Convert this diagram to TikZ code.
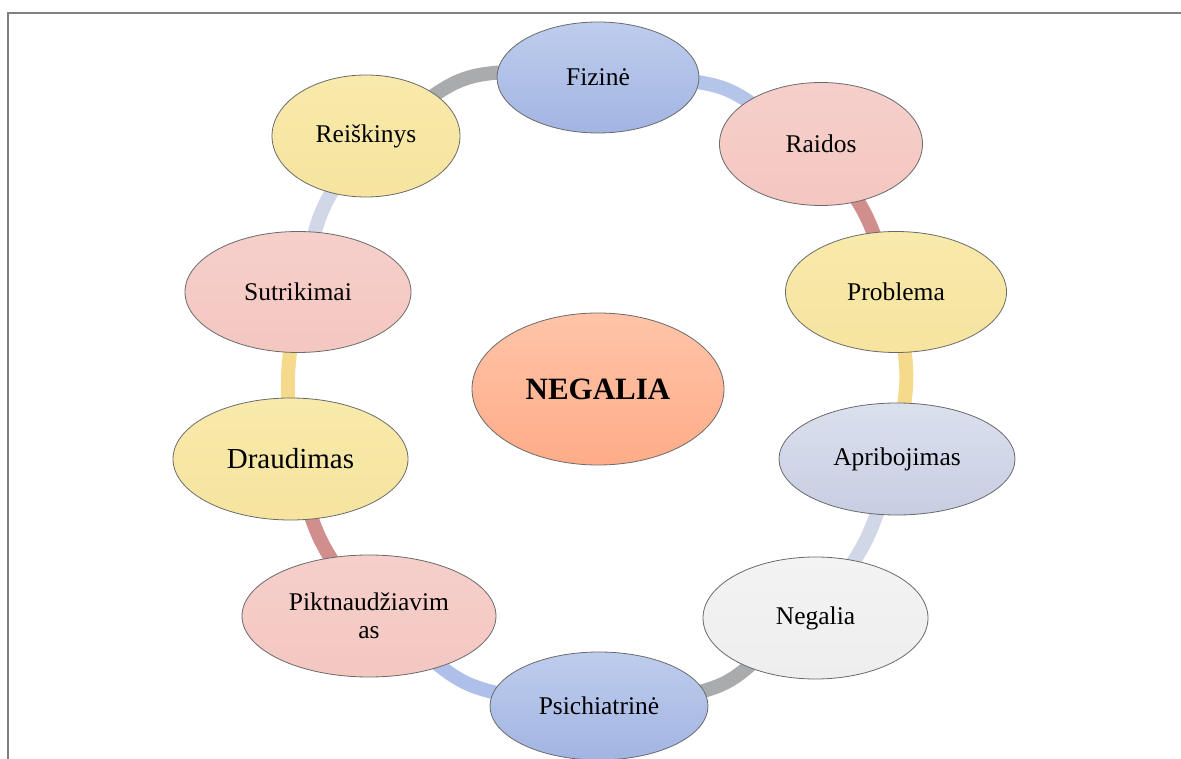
\documentclass[tikz,border=0pt]{standalone}
\usepackage{fontspec}
\setmainfont{Liberation Serif}
\usetikzlibrary{shapes.geometric}
\pgfdeclarelayer{bg}
\pgfsetlayers{bg,main}
\definecolor{blueT}{HTML}{BECDED}
\definecolor{blueB}{HTML}{A2B4E2}
\definecolor{pinkT}{HTML}{F6CFCA}
\definecolor{pinkB}{HTML}{F4C7C1}
\definecolor{yelT}{HTML}{F8EAAB}
\definecolor{yelB}{HTML}{F6E49F}
\definecolor{grbT}{HTML}{DBE0EE}
\definecolor{grbB}{HTML}{C7CEE2}
\definecolor{grT}{HTML}{F3F3F3}
\definecolor{grB}{HTML}{EEEEEE}
\definecolor{orT}{HTML}{FFC4A8}
\definecolor{orB}{HTML}{FFAC88}
\definecolor{edge}{HTML}{6A6A6A}
\definecolor{frame}{HTML}{808080}
\definecolor{rgray}{HTML}{AAABAD}
\definecolor{rlblue}{HTML}{B5C5EA}
\definecolor{rred}{HTML}{D08E8C}
\definecolor{ryel}{HTML}{F6DA8C}
\definecolor{rgb}{HTML}{D0D7E7}
\definecolor{rblue}{HTML}{AEBFEA}
\tikzset{
  bubble/.style={ellipse, draw=edge, line width=0.8pt, inner sep=0pt, align=center,
    font=\fontsize{25.5}{28}\selectfont},
  bl/.style={top color=blueT, bottom color=blueB},
  pk/.style={top color=pinkT, bottom color=pinkB},
  yl/.style={top color=yelT, bottom color=yelB},
  gb/.style={top color=grbT, bottom color=grbB},
  gr/.style={top color=grT, bottom color=grB},
  ringseg/.style={line width=14pt, shorten <=-12pt, shorten >=-12pt},
}
\begin{document}
\begin{tikzpicture}[x=1pt, y=1pt]
\useasboundingbox (0,0) rectangle (1181,758);

\node[bubble, bl, minimum width=202pt, minimum height=111pt] (fiz) at (598,680.5) {Fizinė};
\node[bubble, pk, minimum width=203pt, minimum height=123pt] (rai) at (821,614) {Raidos};
\node[bubble, yl, minimum width=221pt, minimum height=121pt] (pro) at (896,466) {Problema};
\node[bubble, gb, minimum width=236pt, minimum height=112pt] (apr) at (897,299) {Apribojimas};
\node[bubble, gr, minimum width=225pt, minimum height=122pt] (neg) at (815.5,140) {Negalia};
\node[bubble, bl, minimum width=218pt, minimum height=108pt] (psi) at (599,52) {Psichiatrinė};
\node[bubble, pk, minimum width=254pt, minimum height=122pt] (pik) at (369,142) {Piktnaudžiavim\\as};
\node[bubble, yl, minimum width=235pt, minimum height=122pt, font=\fontsize{29}{32}\selectfont] (dra) at (290.5,299) {Draudimas};
\node[bubble, pk, minimum width=226pt, minimum height=121pt] (sut) at (298,466) {Sutrikimai};
\node[bubble, yl, minimum width=188pt, minimum height=122pt] (rei) at (366,622) {Reiškinys};
\node[bubble, top color=orT, bottom color=orB, minimum width=252pt, minimum height=152pt,
      font=\fontsize{31}{34}\selectfont\bfseries] (cen) at (598,369) {NEGALIA};

\begin{pgfonlayer}{bg}
\fill[white] (0,0) rectangle (1181,758);
\draw[frame, line width=2pt] (8,-2) -- (8,745) -- (1183,745);
\draw[ringseg, rgray]  (rei) to[bend left=17] (fiz);
\draw[ringseg, rlblue] (fiz) to[bend left=14] (rai);
\draw[ringseg, rred]   (rai) to[bend left=6] (pro);
\draw[ringseg, ryel]   (pro) to[bend left=8] (apr);
\draw[ringseg, rgb]    (apr) to[bend left=7] (neg);
\draw[ringseg, rgray]  (neg) to[bend left=14] (psi);
\draw[ringseg, rblue]  (psi) to[bend left=14] (pik);
\draw[ringseg, rred]   (pik) to[bend left=7] (dra);
\draw[ringseg, ryel]   (dra) to[bend left=5] (sut);
\draw[ringseg, rgb]    (sut) to[bend left=8] (rei);
\end{pgfonlayer}
\end{tikzpicture}
\end{document}
